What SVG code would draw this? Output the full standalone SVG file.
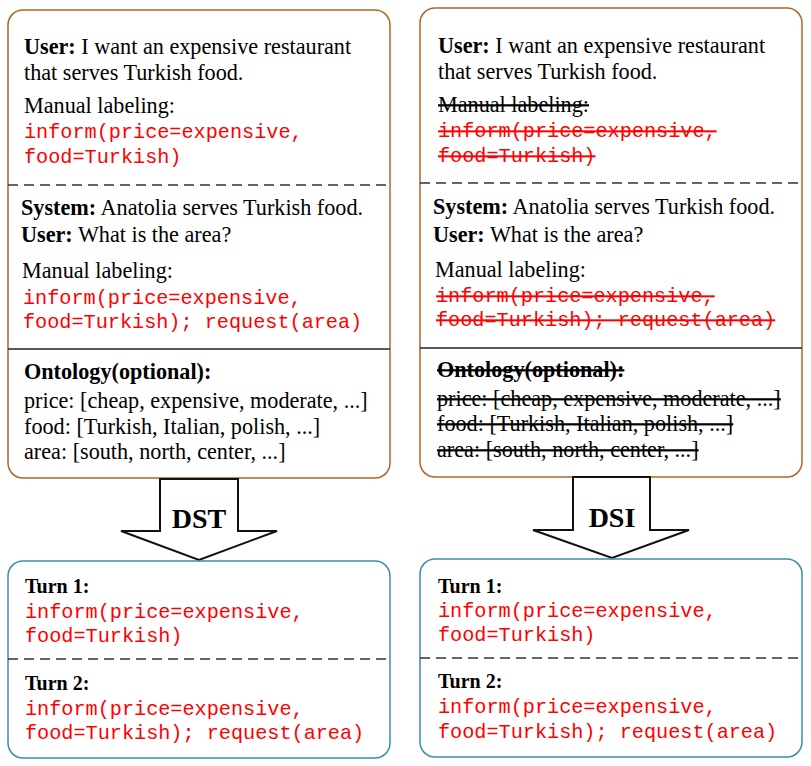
<svg xmlns="http://www.w3.org/2000/svg" width="811" height="766" viewBox="0 0 811 766">
<style>
.bg{fill:#fff}
.box-top{fill:#fff;stroke:#B0652A;stroke-width:1.5}
.box-bot{fill:#fff;stroke:#3F8CA6;stroke-width:1.5}
.dash{stroke:#333;stroke-width:1.5;stroke-dasharray:10 6;fill:none}
.solid{stroke:#222;stroke-width:1.5;fill:none}
.t{font-family:"Liberation Serif","Times New Roman",serif;font-size:22.2px;fill:#000}
.tb{font-weight:bold}
.turn{font-family:"Liberation Serif","Times New Roman",serif;font-size:20px;font-weight:bold;fill:#000}
.m{font-family:"Liberation Mono","Courier New",monospace;font-size:20.2px;fill:#FF0000}
.s{text-decoration:line-through}
.arrow{fill:#fff;stroke:#111;stroke-width:2;stroke-linejoin:miter}
.lbl{font-family:"Liberation Serif","Times New Roman",serif;font-size:28px;font-weight:bold;fill:#000;text-anchor:middle}
</style>
<rect class="bg" x="0" y="0" width="811" height="766"/>

<g id="input-dst">
<rect class="box-top" x="8" y="10" width="382" height="468" rx="15" ry="15"/>
<line class="dash" x1="8" y1="185" x2="390" y2="185"/>
<line class="solid" x1="8" y1="349" x2="390" y2="349"/>
<text class="t" x="24" y="54"><tspan class="tb">User:</tspan> I want an expensive restaurant</text>
<text class="t" x="24" y="80">that serves Turkish food.</text>
<text class="t" x="24" y="113">Manual labeling:</text>
<text class="m" x="24" y="138">inform(price=expensive,</text>
<text class="m" x="24" y="163">food=Turkish)</text>
<text class="t" x="21" y="215"><tspan class="tb">System:</tspan> Anatolia serves Turkish food.</text>
<text class="t" x="21" y="242"><tspan class="tb">User:</tspan> What is the area?</text>
<text class="t" x="22" y="278">Manual labeling:</text>
<text class="m" x="23" y="304">inform(price=expensive,</text>
<text class="m" x="23" y="328">food=Turkish); request(area)</text>
<text class="t tb" x="24" y="379">Ontology(optional):</text>
<text class="t" x="24" y="408">price: [cheap, expensive, moderate, ...]</text>
<text class="t" x="24" y="434">food: [Turkish, Italian, polish, ...]</text>
<text class="t" x="24" y="459">area: [south, north, center, ...]</text>
</g>

<g id="input-dsi">
<rect class="box-top" x="420" y="8" width="382" height="469" rx="15" ry="15"/>
<line class="dash" x1="420" y1="183" x2="802" y2="183"/>
<line class="solid" x1="420" y1="348" x2="802" y2="348"/>
<text class="t" x="438" y="53"><tspan class="tb">User:</tspan> I want an expensive restaurant</text>
<text class="t" x="438" y="79">that serves Turkish food.</text>
<text class="t s" x="438" y="112">Manual labeling:</text>
<text class="m s" x="438" y="137">inform(price=expensive,</text>
<text class="m s" x="438" y="162">food=Turkish)</text>
<text class="t" x="433" y="214"><tspan class="tb">System:</tspan> Anatolia serves Turkish food.</text>
<text class="t" x="433" y="242"><tspan class="tb">User:</tspan> What is the area?</text>
<text class="t" x="435" y="277">Manual labeling:</text>
<text class="m s" x="436" y="302">inform(price=expensive,</text>
<text class="m s" x="436" y="326">food=Turkish); request(area)</text>
<text class="t tb s" x="437" y="377">Ontology(optional):</text>
<text class="t s" x="437" y="406">price: [cheap, expensive, moderate, ...]</text>
<text class="t s" x="437" y="431">food: [Turkish, Italian, polish, ...]</text>
<text class="t s" x="437" y="457">area: [south, north, center, ...]</text>
</g>

<g id="connectors">
<g id="arrow-dst">
<polygon class="arrow" points="160,479 238,479 238,531 277,531 199,560 121,531 160,531"/>
<text class="lbl" x="199" y="528">DST</text>
</g>
<g id="arrow-dsi">
<polygon class="arrow" points="573,477 650,477 650,530 689,530 612,558 533,530 573,530"/>
<text class="lbl" x="612" y="527">DSI</text>
</g>
</g>

<g id="output-dst">
<rect class="box-bot" x="8" y="561" width="382" height="197" rx="15" ry="15"/>
<line class="dash" x1="8" y1="659" x2="390" y2="659"/>
<text class="turn" x="25" y="593">Turn 1:</text>
<text class="m" x="25" y="618">inform(price=expensive,</text>
<text class="m" x="25" y="642">food=Turkish)</text>
<text class="turn" x="25" y="690">Turn 2:</text>
<text class="m" x="25" y="715">inform(price=expensive,</text>
<text class="m" x="25" y="739">food=Turkish); request(area)</text>
</g>

<g id="output-dsi">
<rect class="box-bot" x="420" y="559" width="382" height="198" rx="15" ry="15"/>
<line class="dash" x1="420" y1="658" x2="802" y2="658"/>
<text class="turn" x="438" y="593">Turn 1:</text>
<text class="m" x="438" y="617">inform(price=expensive,</text>
<text class="m" x="438" y="641">food=Turkish)</text>
<text class="turn" x="438" y="688">Turn 2:</text>
<text class="m" x="438" y="713">inform(price=expensive,</text>
<text class="m" x="438" y="738">food=Turkish); request(area)</text>
</g>
</svg>
